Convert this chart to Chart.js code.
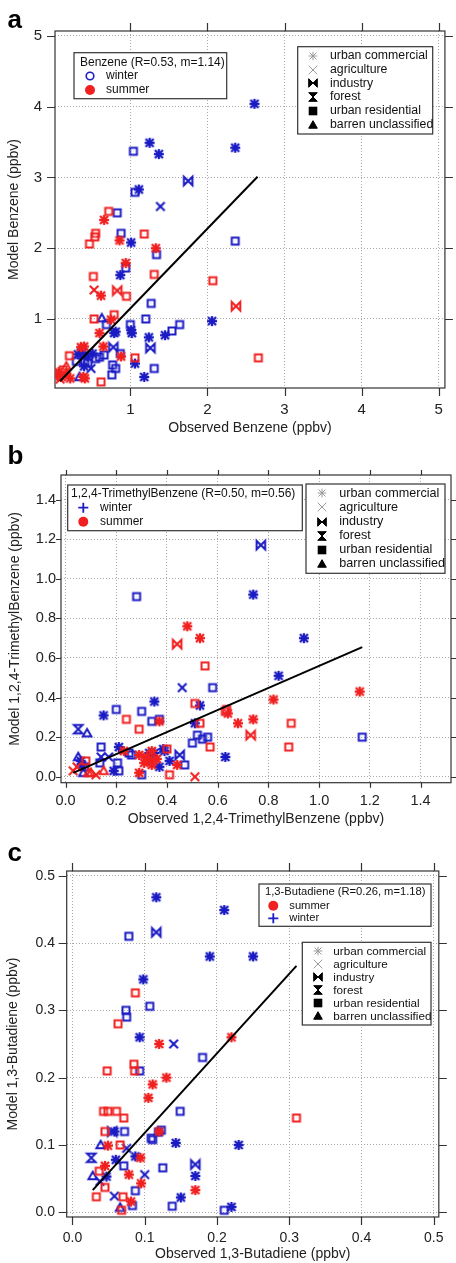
<!DOCTYPE html>
<html>
<head>
<meta charset="utf-8">
<script src="https://cdn.jsdelivr.net/npm/chart.js@4.4.1/dist/chart.umd.min.js"></script>
<style>
  body { margin: 0; background: #fff; width: 456px; height: 1263px; position: relative; overflow: hidden; }
  canvas { position: absolute; left: 0; }
</style>
</head>
<body>
<canvas id="chartA" width="456" height="440" style="top:0px"></canvas>
<canvas id="chartB" width="456" height="390" style="top:440px"></canvas>
<canvas id="chartC" width="456" height="433" style="top:830px"></canvas>
<script>
// land use codes: c = urban commercial, g = agriculture, i = industry,
// f = forest, r = urban residential, b = barren unclassified
const landCodes = ['c', 'g', 'i', 'f', 'r', 'b'];
const landNames = ['urban commercial', 'agriculture', 'industry', 'forest', 'urban residential', 'barren unclassified'];

// ---- panel a: Benzene ----
const aTicks = [1, 2, 3, 4, 5];
const aWinter = [
  [2.61, 4.04, 'c'], [2.36, 3.42, 'c'], [1.25, 3.49, 'c'], [1.37, 3.33, 'c'], [1.04, 3.37, 'r'],
  [1.11, 2.83, 'c'], [1.06, 2.79, 'r'], [1.75, 2.95, 'i'], [1.39, 2.59, 'g'], [0.83, 2.50, 'r'],
  [0.88, 2.21, 'r'], [1.01, 2.08, 'c'], [1.34, 1.91, 'r'], [2.36, 2.10, 'r'], [0.94, 1.72, 'r'],
  [0.87, 1.62, 'c'], [1.27, 1.22, 'r'], [2.06, 0.97, 'c'], [1.64, 0.92, 'r'], [1.54, 0.83, 'r'],
  [1.45, 0.77, 'c'], [1.24, 0.74, 'c'], [1.26, 0.59, 'i'], [1.20, 1.00, 'r'], [1.00, 0.92, 'r'],
  [1.01, 0.84, 'c'], [1.02, 0.80, 'c'], [0.69, 0.92, 'r'], [0.81, 0.82, 'c'], [0.79, 0.80, 'c'],
  [0.63, 1.01, 'b'], [0.78, 0.60, 'i'], [0.87, 0.51, 'r'], [0.77, 0.35, 'r'], [0.81, 0.30, 'r'],
  [0.76, 0.21, 'r'], [1.31, 0.30, 'r'], [1.06, 0.37, 'c'], [1.18, 0.18, 'c'], [0.66, 0.49, 'r'],
  [0.55, 0.44, 'r'], [0.51, 0.51, 'c'], [0.49, 0.30, 'g'], [0.38, 0.57, 'c'], [0.36, 0.52, 'c'],
  [0.41, 0.40, 'r'], [0.34, 0.18, 'b'], [0.44, 0.47, 'c'], [0.30, 0.40, 'r'], [0.32, 0.50, 'c'],
  [0.40, 0.33, 'c'], [0.45, 0.38, 'r'], [0.60, 0.46, 'r']
];
const aSummer = [
  [0.72, 2.52, 'r'], [0.66, 2.40, 'c'], [0.55, 2.21, 'r'], [0.54, 2.16, 'r'], [0.47, 2.06, 'r'],
  [0.86, 2.11, 'c'], [1.18, 2.20, 'r'], [1.33, 2.00, 'c'], [0.94, 1.79, 'c'], [0.52, 1.60, 'r'],
  [1.31, 1.63, 'r'], [2.07, 1.54, 'r'], [0.53, 1.41, 'g'], [0.62, 1.33, 'c'], [0.83, 1.40, 'i'],
  [0.95, 1.32, 'r'], [2.37, 1.18, 'i'], [2.66, 0.45, 'r'], [0.53, 1.00, 'r'], [0.79, 1.06, 'r'],
  [0.75, 0.99, 'c'], [0.60, 0.80, 'c'], [0.65, 0.61, 'c'], [0.21, 0.48, 'r'], [0.40, 0.61, 'c'],
  [1.06, 0.45, 'r'], [0.88, 0.47, 'c'], [0.62, 0.11, 'r'], [0.41, 0.16, 'c'], [0.07, 0.25, 'c'],
  [0.11, 0.18, 'c'], [0.17, 0.23, 'c'], [0.22, 0.16, 'c'], [0.17, 0.33, 'b'], [0.05, 0.20, 'c'],
  [0.13, 0.28, 'r'], [0.09, 0.15, 'g'], [0.36, 0.60, 'c'], [0.39, 0.18, 'c']
];
const aFit = [[0.087, 0.12], [2.65, 3.01]];

// ---- panel b: 1,2,4-TrimethylBenzene ----
const bTicks = [0, 0.2, 0.4, 0.6, 0.8, 1.0, 1.2, 1.4];
const bWinter = [
  [0.77, 1.17, 'i'], [0.74, 0.92, 'c'], [0.28, 0.91, 'r'], [0.94, 0.70, 'c'], [0.84, 0.51, 'c'],
  [0.46, 0.45, 'g'], [0.58, 0.45, 'r'], [0.35, 0.38, 'c'], [0.53, 0.36, 'c'], [0.20, 0.34, 'r'],
  [0.15, 0.31, 'c'], [0.30, 0.33, 'r'], [0.34, 0.28, 'r'], [0.37, 0.29, 'r'], [0.51, 0.27, 'c'],
  [1.17, 0.20, 'r'], [0.05, 0.24, 'f'], [0.085, 0.22, 'b'], [0.52, 0.21, 'r'], [0.50, 0.17, 'r'],
  [0.54, 0.19, 'r'], [0.56, 0.20, 'r'], [0.63, 0.10, 'c'], [0.47, 0.06, 'r'], [0.45, 0.11, 'i'],
  [0.41, 0.08, 'c'], [0.37, 0.05, 'c'], [0.385, 0.14, 'c'], [0.39, 0.13, 'c'], [0.14, 0.15, 'r'],
  [0.135, 0.07, 'r'], [0.14, 0.10, 'g'], [0.21, 0.15, 'c'], [0.205, 0.07, 'r'], [0.21, 0.03, 'r'],
  [0.19, 0.03, 'c'], [0.17, 0.10, 'g'], [0.30, 0.01, 'r'], [0.25, 0.12, 'r'], [0.26, 0.11, 'r'],
  [0.33, 0.12, 'c'], [0.34, 0.11, 'r'], [0.05, 0.10, 'b'], [0.06, 0.08, 'c'], [0.075, 0.05, 'r'],
  [0.07, 0.02, 'b'], [0.065, 0.06, 'c'], [0.35, 0.12, 'c']
];
const bSummer = [
  [0.48, 0.76, 'c'], [0.53, 0.70, 'c'], [0.44, 0.67, 'i'], [0.55, 0.56, 'r'], [1.16, 0.43, 'c'],
  [0.82, 0.39, 'c'], [0.51, 0.37, 'r'], [0.635, 0.34, 'r'], [0.64, 0.32, 'c'], [0.68, 0.27, 'c'],
  [0.74, 0.29, 'c'], [0.89, 0.27, 'r'], [0.73, 0.21, 'i'], [0.88, 0.15, 'r'], [0.24, 0.29, 'r'],
  [0.29, 0.24, 'r'], [0.53, 0.27, 'r'], [0.37, 0.28, 'c'], [0.57, 0.15, 'r'], [0.51, 0.00, 'g'],
  [0.41, 0.01, 'r'], [0.44, 0.06, 'c'], [0.40, 0.14, 'r'], [0.31, 0.07, 'c'], [0.33, 0.08, 'c'],
  [0.34, 0.13, 'c'], [0.32, 0.10, 'c'], [0.34, 0.06, 'c'], [0.29, 0.11, 'c'], [0.23, 0.13, 'c'],
  [0.29, 0.02, 'c'], [0.03, 0.03, 'g'], [0.045, 0.05, 'g'], [0.08, 0.08, 'r'], [0.09, 0.02, 'b'],
  [0.15, 0.03, 'b'], [0.12, 0.01, 'g'], [0.10, 0.02, 'b'], [0.36, 0.09, 'c'], [0.63, 0.33, 'r']
];
const bFit = [[0.03, 0.02], [1.17, 0.655]];

// ---- panel c: 1,3-Butadiene ----
const cTicks = [0, 0.1, 0.2, 0.3, 0.4, 0.5];
const cWinter = [
  [0.116, 0.468, 'c'], [0.21, 0.449, 'c'], [0.116, 0.416, 'i'], [0.078, 0.41, 'r'], [0.19, 0.38, 'c'],
  [0.25, 0.38, 'c'], [0.098, 0.346, 'c'], [0.107, 0.306, 'r'], [0.074, 0.30, 'r'], [0.075, 0.29, 'r'],
  [0.093, 0.26, 'c'], [0.14, 0.25, 'g'], [0.18, 0.23, 'r'], [0.093, 0.21, 'r'], [0.149, 0.15, 'r'],
  [0.123, 0.122, 'r'], [0.119, 0.119, 'r'], [0.109, 0.11, 'r'], [0.111, 0.108, 'r'], [0.143, 0.103, 'c'],
  [0.23, 0.10, 'c'], [0.072, 0.12, 'r'], [0.058, 0.12, 'c'], [0.026, 0.081, 'f'], [0.075, 0.095, 'g'],
  [0.087, 0.083, 'c'], [0.06, 0.078, 'c'], [0.071, 0.069, 'r'], [0.17, 0.071, 'i'], [0.17, 0.054, 'c'],
  [0.125, 0.066, 'r'], [0.10, 0.056, 'g'], [0.039, 0.10, 'b'], [0.028, 0.054, 'b'], [0.047, 0.053, 'c'],
  [0.038, 0.046, 'g'], [0.087, 0.032, 'r'], [0.058, 0.024, 'g'], [0.083, 0.01, 'r'], [0.066, 0.007, 'b'],
  [0.138, 0.009, 'r'], [0.15, 0.022, 'c'], [0.21, 0.003, 'r'], [0.22, 0.008, 'c'], [0.055, 0.12, 'i']
];
const cSummer = [
  [0.087, 0.326, 'r'], [0.063, 0.28, 'r'], [0.22, 0.26, 'c'], [0.12, 0.25, 'c'], [0.085, 0.22, 'r'],
  [0.048, 0.21, 'r'], [0.086, 0.21, 'r'], [0.13, 0.20, 'c'], [0.111, 0.19, 'c'], [0.105, 0.17, 'c'],
  [0.31, 0.14, 'r'], [0.043, 0.15, 'r'], [0.049, 0.15, 'r'], [0.061, 0.15, 'r'], [0.071, 0.14, 'r'],
  [0.045, 0.12, 'r'], [0.066, 0.10, 'r'], [0.049, 0.099, 'c'], [0.12, 0.12, 'c'], [0.094, 0.081, 'c'],
  [0.045, 0.069, 'c'], [0.037, 0.061, 'r'], [0.078, 0.056, 'c'], [0.095, 0.043, 'c'], [0.045, 0.037, 'r'],
  [0.033, 0.023, 'r'], [0.07, 0.023, 'r'], [0.081, 0.016, 'c'], [0.068, 0.003, 'r'], [0.17, 0.033, 'c']
];
const cFit = [[0.028, 0.033], [0.31, 0.366]];

const BLUE = 'rgb(28,28,196)';
const RED = 'rgb(240,32,32)';
const FONT = 'Liberation Sans, Arial, sans-serif';

// Draw one marker glyph into a small canvas, used as a Chart.js pointStyle
function makeMarker(code, color, filled, lw) {
  const size = 14, m = size / 2, r = 4.3;
  const cv = document.createElement('canvas');
  cv.width = cv.height = size;
  const g = cv.getContext('2d');
  g.strokeStyle = color;
  g.fillStyle = color;
  g.lineWidth = lw;
  g.lineJoin = 'miter';
  const seg = (x1, y1, x2, y2) => { g.beginPath(); g.moveTo(x1, y1); g.lineTo(x2, y2); g.stroke(); };
  const poly = (pts) => {
    g.beginPath();
    pts.forEach((p, i) => (i ? g.lineTo(p[0], p[1]) : g.moveTo(p[0], p[1])));
    g.closePath();
    if (filled) g.fill();
    g.stroke();
  };
  if (code === 'c') {
    // bold asterisk: eight spokes
    const R = filled || lw < 1.5 ? r : 5;
    const d = R * 0.8;
    if (lw >= 1.5) g.lineWidth = 2.3;
    seg(m, m - R, m, m + R);
    seg(m - R, m, m + R, m);
    seg(m - d, m - d, m + d, m + d);
    seg(m - d, m + d, m + d, m - d);
  } else if (code === 'g') {
    seg(m - r, m - r, m + r, m + r);
    seg(m - r, m + r, m + r, m - r);
  } else if (code === 'i') {
    poly([[m - r, m - r], [m + r, m + r], [m + r, m - r], [m - r, m + r]]);
  } else if (code === 'f') {
    poly([[m - r, m - r], [m + r, m - r], [m - r, m + r], [m + r, m + r]]);
  } else if (code === 'r') {
    if (filled) {
      g.fillRect(m - r, m - r, 2 * r, 2 * r);
    } else {
      g.strokeRect(m - 3.5, m - 3.5, 7, 7);
      g.fillStyle = color === RED ? 'rgb(255,190,190)' : 'rgb(190,190,255)';
      g.fillRect(m - 0.5, m - 0.5, 1, 1);
    }
  } else if (code === 'b') {
    poly([[m, m - r], [m + r, m + r * 0.75], [m - r, m + r * 0.75]]);
  }
  return cv;
}

const markers = { blue: {}, red: {}, legend: {} };
landCodes.forEach(code => {
  markers.blue[code] = makeMarker(code, BLUE, false, 2);
  markers.red[code] = makeMarker(code, RED, false, 2);
  const thin = code === 'c' || code === 'g';
  markers.legend[code] = makeMarker(code, thin ? '#9a9a9a' : '#000', !thin, 1);
});

// Plugin: frame, outward tick marks, panel letter and the two legend boxes
const decorPlugin = {
  id: 'decor',
  beforeDatasetsDraw(chart) {
    const p = chart.options.plugins.decor;
    const { ctx, chartArea: a } = chart;
    const xs = chart.scales.x, ys = chart.scales.y;
    ctx.save();
    ctx.strokeStyle = '#333';
    ctx.lineWidth = 1.2;
    ctx.strokeRect(a.left, a.top, a.right - a.left, a.bottom - a.top);
    ctx.beginPath();
    p.ticks.forEach(v => {
      const x = Math.round(xs.getPixelForValue(v)) + 0.5;
      ctx.moveTo(x, a.top); ctx.lineTo(x, a.top - p.tickLen);
      ctx.moveTo(x, a.bottom); ctx.lineTo(x, a.bottom + p.tickLen);
      const y = Math.round(ys.getPixelForValue(v)) + 0.5;
      ctx.moveTo(a.left, y); ctx.lineTo(a.left - p.tickLen, y);
      ctx.moveTo(a.right, y); ctx.lineTo(a.right + p.tickLen, y);
    });
    ctx.stroke();
    ctx.restore();
  },
  afterDraw(chart) {
    const p = chart.options.plugins.decor;
    const ctx = chart.ctx;
    ctx.save();
    // panel letter
    ctx.fillStyle = '#000';
    ctx.font = 'bold 26px ' + FONT;
    ctx.textBaseline = 'alphabetic';
    ctx.textAlign = 'left';
    ctx.fillText(p.letter, p.letterPos[0], p.letterPos[1]);

    // season legend
    const s = p.season;
    ctx.fillStyle = '#fff';
    ctx.fillRect(s.box[0], s.box[1], s.box[2], s.box[3]);
    ctx.strokeStyle = '#333';
    ctx.lineWidth = 1.2;
    ctx.strokeRect(s.box[0], s.box[1], s.box[2], s.box[3]);
    ctx.fillStyle = '#111';
    ctx.font = s.font + 'px ' + FONT;
    ctx.textBaseline = 'middle';
    ctx.fillText(s.title, s.titlePos[0], s.titlePos[1]);
    s.rows.forEach((row, i) => {
      const y = s.rowY[i];
      const mx = s.markX;
      ctx.beginPath();
      if (row.mark === 'open') {
        ctx.strokeStyle = BLUE; ctx.lineWidth = 1.6;
        ctx.arc(mx, y, 3.8, 0, Math.PI * 2); ctx.stroke();
      } else if (row.mark === 'dot') {
        ctx.fillStyle = RED;
        ctx.arc(mx, y, 5, 0, Math.PI * 2); ctx.fill();
      } else if (row.mark === 'plus') {
        ctx.strokeStyle = BLUE; ctx.lineWidth = 1.8;
        ctx.moveTo(mx - 5, y); ctx.lineTo(mx + 5, y);
        ctx.moveTo(mx, y - 5); ctx.lineTo(mx, y + 5); ctx.stroke();
      }
      ctx.fillStyle = '#111';
      ctx.fillText(row.label, s.textX, y);
    });

    // land use legend
    const l = p.land;
    ctx.fillStyle = '#fff';
    ctx.fillRect(l.box[0], l.box[1], l.box[2], l.box[3]);
    ctx.strokeStyle = '#333';
    ctx.lineWidth = 1.2;
    ctx.strokeRect(l.box[0], l.box[1], l.box[2], l.box[3]);
    ctx.font = l.font + 'px ' + FONT;
    landCodes.forEach((code, i) => {
      const y = l.rowY0 + i * l.rowStep;
      const img = markers.legend[code];
      ctx.drawImage(img, Math.round(l.markX - img.width / 2), Math.round(y - img.height / 2));
      ctx.fillStyle = '#111';
      ctx.fillText(landNames[i], l.textX, y);
    });
    ctx.restore();
  }
};

function toPoints(rows) {
  return rows.map(r => ({ x: r[0], y: r[1], t: r[2] }));
}

function buildChart(id, p) {
  const scaleFont = { family: FONT, size: 14 };
  const tickFont = { family: FONT, size: p.tickSize };
  const a = p.area;
  return new Chart(document.getElementById(id), {
    type: 'scatter',
    data: {
      datasets: [
        {
          type: 'line',
          data: p.fit.map(q => ({ x: q[0], y: q[1] })),
          borderColor: '#000',
          borderWidth: 2,
          pointRadius: 0,
          fill: false
        },
        {
          data: toPoints(p.summer),
          pointRadius: 4,
          pointStyle: ctx => markers.red[ctx.raw ? ctx.raw.t : 'r']
        },
        {
          data: toPoints(p.winter),
          pointRadius: 4,
          pointStyle: ctx => markers.blue[ctx.raw ? ctx.raw.t : 'r']
        }
      ]
    },
    options: {
      responsive: false,
      animation: false,
      layout: { padding: { left: p.padL, top: a.t, right: p.W - a.r, bottom: p.padB } },
      plugins: {
        legend: { display: false },
        tooltip: { enabled: false },
        decor: p.decor
      },
      scales: {
        x: {
          type: 'linear',
          min: p.xRange[0],
          max: p.xRange[1],
          afterBuildTicks: s => { s.ticks = p.ticks.map(v => ({ value: v })); },
          afterFit: s => { s.height = p.H - a.b - p.padB; },
          ticks: { color: '#222', font: tickFont, padding: p.xLabelPad, maxRotation: 0, autoSkip: false, callback: v => p.fmt(v) },
          grid: { color: '#a8a8a8', lineWidth: 1, drawTicks: false },
          border: { display: false, dash: [1, 2] },
          title: { display: true, text: p.xTitle, color: '#222', font: scaleFont, padding: 0 }
        },
        y: {
          type: 'linear',
          min: p.yRange[0],
          max: p.yRange[1],
          afterBuildTicks: s => { s.ticks = p.ticks.map(v => ({ value: v })); },
          afterFit: s => { s.width = a.l - p.padL; },
          ticks: { color: '#222', font: tickFont, padding: p.yLabelPad, autoSkip: false, callback: v => p.fmt(v) },
          grid: { color: '#a8a8a8', lineWidth: 1, drawTicks: false },
          border: { display: false, dash: [1, 2] },
          title: { display: true, text: p.yTitle, color: '#222', font: scaleFont, padding: 0 }
        }
      }
    },
    plugins: [decorPlugin]
  });
}

buildChart('chartA', {
  W: 456, H: 440, area: { l: 55, t: 31, r: 452, b: 388 }, padL: 5.6, padB: 3.6,
  xRange: [0.023, 5.08], yRange: [0.024, 5.07], ticks: aTicks, fmt: v => String(v),
  tickSize: 15, xLabelPad: 13, yLabelPad: 13,
  xTitle: 'Observed Benzene (ppbv)', yTitle: 'Model Benzene (ppbv)',
  winter: aWinter, summer: aSummer, fit: aFit,
  decor: {
    letter: 'a', letterPos: [7.5, 28], ticks: aTicks, tickLen: 8,
    season: {
      box: [74, 52.7, 152.7, 46], font: 12, title: 'Benzene (R=0.53, m=1.14)', titlePos: [80, 62.5],
      markX: 90, textX: 106, rowY: [76, 90],
      rows: [{ label: 'winter', mark: 'open' }, { label: 'summer', mark: 'dot' }]
    },
    land: { box: [297.7, 46.7, 135, 87.3], font: 12.3, rowY0: 55.7, rowStep: 13.8, markX: 313.3, textX: 330 }
  }
});

buildChart('chartB', {
  W: 456, H: 390, area: { l: 61, t: 35, r: 452, b: 342.7 }, padL: 6.6, padB: 2.6,
  xRange: [-0.018, 1.52], yRange: [-0.03, 1.524], ticks: bTicks, fmt: v => v.toFixed(1),
  tickSize: 14.5, xLabelPad: 9.6, yLabelPad: 5,
  xTitle: 'Observed 1,2,4-TrimethylBenzene (ppbv)', yTitle: 'Model 1,2,4-TrimethylBenzene (ppbv)',
  winter: bWinter, summer: bSummer, fit: bFit,
  decor: {
    letter: 'b', letterPos: [7.5, 24], ticks: bTicks, tickLen: 5,
    season: {
      box: [67.7, 45, 234.6, 45.7], font: 12, title: '1,2,4-TrimethylBenzene (R=0.50, m=0.56)', titlePos: [71, 54],
      markX: 83.3, textX: 100, rowY: [67.7, 81.7],
      rows: [{ label: 'winter', mark: 'plus' }, { label: 'summer', mark: 'dot' }]
    },
    land: { box: [306, 44, 139, 89.3], font: 12.6, rowY0: 53.3, rowStep: 14.1, markX: 322.3, textX: 339.3 }
  }
});

buildChart('chartC', {
  W: 456, H: 433, area: { l: 66.7, t: 41, r: 440, b: 387 }, padL: 4.9, padB: 0,
  xRange: [-0.008, 0.507], yRange: [-0.007, 0.507], ticks: cTicks, fmt: v => v.toFixed(1),
  tickSize: 14, xLabelPad: 12.3, yLabelPad: 11.7,
  xTitle: 'Observed 1,3-Butadiene (ppbv)', yTitle: 'Model 1,3-Butadiene (ppbv)',
  winter: cWinter, summer: cSummer, fit: cFit,
  decor: {
    letter: 'c', letterPos: [7.5, 30.7], ticks: cTicks, tickLen: 8,
    season: {
      box: [259, 54, 172, 42.3], font: 11.2, title: '1,3-Butadiene (R=0.26, m=1.18)', titlePos: [265, 61.7],
      markX: 273.3, textX: 289.3, rowY: [75.7, 88.3],
      rows: [{ label: 'summer', mark: 'dot' }, { label: 'winter', mark: 'plus' }]
    },
    land: { box: [302.3, 112.3, 128.7, 82.7], font: 11.7, rowY0: 121.3, rowStep: 13, markX: 317.7, textX: 333.3 }
  }
});
</script>
</body>
</html>
